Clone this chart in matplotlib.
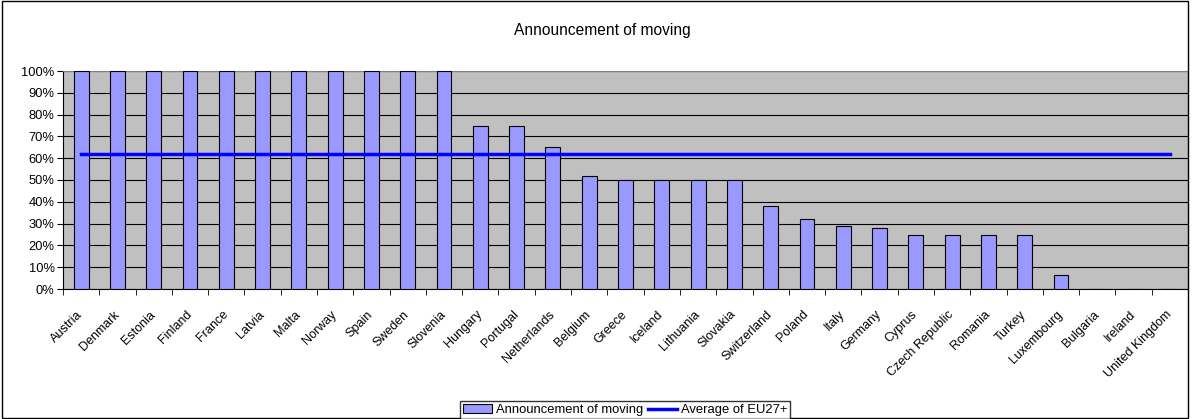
import numpy as np
import matplotlib.pyplot as plt
from matplotlib.patches import Rectangle

plt.rcParams['font.family'] = ['Liberation Sans', 'DejaVu Sans']

countries = ["Austria", "Denmark", "Estonia", "Finland", "France", "Latvia", "Malta",
             "Norway", "Spain", "Sweden", "Slovenia", "Hungary", "Portugal", "Netherlands",
             "Belgium", "Greece", "Iceland", "Lithuania", "Slovakia", "Switzerland", "Poland",
             "Italy", "Germany", "Cyprus", "Czech Republic", "Romania", "Turkey", "Luxembourg",
             "Bulgaria", "Ireland", "United Kingdom"]
announcement = [100, 100, 100, 100, 100, 100, 100, 100, 100, 100, 100, 75, 75, 65.3,
                51.8, 50, 50, 50, 50, 38.2, 32, 28.9, 27.8, 25, 25, 25, 25, 6.3,
                0, 0, 0]
average_eu = 62.1

fig = plt.figure(figsize=(11.92, 4.19), dpi=100)
ax = fig.add_axes([63 / 1192, 1 - 289 / 419, (1188 - 63) / 1192, (289 - 71) / 419])

x = np.arange(len(countries))
ax.set_facecolor('#C0C0C0')
bars = ax.bar(x, announcement, width=0.41, color='#9999FF', edgecolor='black',
              linewidth=0.8, zorder=3)
line, = ax.plot(x, [average_eu] * len(x), color='#0000FF', linewidth=2.5, zorder=4)

ax.set_xlim(-0.5, len(x) - 0.5)
ax.set_ylim(0, 100)
ax.set_yticks(np.arange(0, 101, 10))
ax.set_yticklabels([f"{v}%" for v in range(0, 101, 10)], fontsize=9.3)
ax.yaxis.grid(True, color='black', linewidth=0.8)
ax.set_axisbelow(True)

ax.set_xticks(x - 0.12)
ax.set_xticklabels(countries, rotation=45, ha='right', rotation_mode='anchor', fontsize=9)
ax.tick_params(axis='x', which='major', length=0, pad=14)
ax.set_xticks(np.arange(-0.5, len(x), 1), minor=True)
ax.tick_params(axis='x', which='minor', length=4, direction='out')
ax.tick_params(axis='y', length=4, direction='out', pad=2)

for s in ['top', 'right']:
    ax.spines[s].set_color('#808080')
    ax.spines[s].set_linewidth(0.8)
ax.spines['left'].set_linewidth(0.8)
ax.spines['bottom'].set_linewidth(0.8)

fig.text(602 / 1192, 1 - 30 / 419, "Announcement of moving", ha='center', va='center',
         fontsize=11.2)

fig.legend([bars, line], ['Announcement of moving', 'Average of EU27+'],
           loc='center', bbox_to_anchor=(625 / 1192, 1 - 410 / 419), ncol=2, fontsize=9.4,
           frameon=True, fancybox=False, edgecolor='black', borderpad=0.2,
           handlelength=2.2, columnspacing=0.4, handletextpad=0.3)

fig.patches.append(Rectangle((0.002, 0.003), 0.995, 0.994, transform=fig.transFigure,
                             fill=False, edgecolor='black', linewidth=1))

fig.savefig('out.png', dpi=100)
